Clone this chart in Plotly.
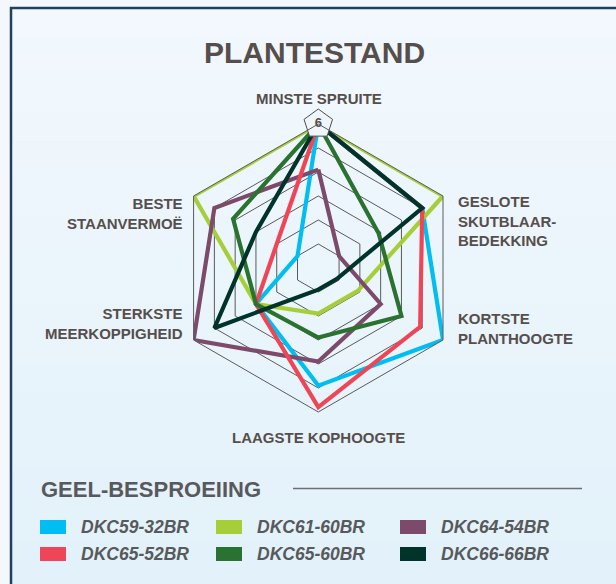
import plotly.graph_objects as go

W, H = 616, 584

# ---------------- data ----------------
CATEGORIES = [
    "MINSTE SPRUITE",
    "GESLOTE SKUTBLAAR-BEDEKKING",
    "KORTSTE PLANTHOOGTE",
    "LAAGSTE KOPHOOGTE",
    "STERKSTE MEERKOPPIGHEID",
    "BESTE STAANVERMOË",
]
CATEGORY_LABELS = [
    "MINSTE SPRUITE",
    "GESLOTE<br>SKUTBLAAR-<br>BEDEKKING",
    "KORTSTE<br>PLANTHOOGTE",
    "LAAGSTE KOPHOOGTE",
    "STERKSTE<br>MEERKOPPIGHEID",
    "BESTE<br>STAANVERMOË",
]

SERIES_NAMES = ["DKC59-32BR", "DKC61-60BR", "DKC64-54BR",
                "DKC65-52BR", "DKC65-60BR", "DKC66-66BR"]
DKC59_32BR = [6, 5, 6, 4.9, 3, 1]
DKC61_60BR = [6, 6, 1.9, 1.9, 3, 6]
DKC64_54BR = [4.1, 1, 3, 3.9, 6, 5]
DKC65_52BR = [6, 5, 4.9, 5.8, 3, 2]
DKC65_60BR = [6, 2.9, 4, 2.9, 3, 4.1]
DKC66_66BR = [6, 5, 0.9, 0.9, 5, 3]
SERIES_VALUES = [DKC59_32BR, DKC61_60BR, DKC64_54BR, DKC65_52BR, DKC65_60BR, DKC66_66BR]

RADIAL_MIN, RADIAL_MAX = 0, 6
RADIAL_GRID = [1, 2, 3, 4, 5, 6]

TITLE = "PLANTESTAND"
LEGEND_TITLE = "GEEL-BESPROEIING"

# ---------------- style ----------------
COLORS = ["#00bdf2", "#a6ce39", "#7c4a6b", "#ef4657", "#2a722f", "#00342a"]
TEXT = "#564e4b"
LEG_TEXT = "#58595b"
FONT = "Liberation Sans, Arial, sans-serif"


def px(x):
    return x / W


def py(y):
    return 1 - y / H


fig = go.Figure()

for name, vals, col in zip(SERIES_NAMES, SERIES_VALUES, COLORS):
    fig.add_trace(go.Scatterpolar(
        r=vals + vals[:1], theta=CATEGORIES + CATEGORIES[:1],
        mode="lines", name=name,
        line=dict(color=col, width=4.2),
        showlegend=False, hoverinfo="skip",
    ))

# radial end labels: 0 at centre, 6 in pentagon at top
fig.add_trace(go.Scatterpolar(
    r=[RADIAL_MAX], theta=[CATEGORIES[0]], mode="markers+text",
    text=[str(RADIAL_MAX)], textposition="middle center",
    marker=dict(symbol="pentagon", size=30, color="#eef5fb",
                line=dict(color="#4d4d4d", width=1)),
    textfont=dict(family=FONT, size=13, color=TEXT, weight="bold"),
    showlegend=False, hoverinfo="skip",
))
fig.add_trace(go.Scatterpolar(
    r=[RADIAL_MIN], theta=[CATEGORIES[0]], mode="text",
    text=[str(RADIAL_MIN)], textposition="middle center",
    textfont=dict(family=FONT, size=12.5, color=TEXT, weight="bold"),
    showlegend=False, hoverinfo="skip",
))

cx, cy, R = 318.3, 268.0, 144.0
fig.update_layout(
    width=W, height=H,
    margin=dict(l=0, r=0, t=0, b=0),
    paper_bgcolor="#f4f8fc",
    plot_bgcolor="rgba(0,0,0,0)",
    showlegend=False,
    polar=dict(
        domain=dict(x=[px(cx - R), px(cx + R)], y=[py(cy + R), py(cy - R)]),
        bgcolor="rgba(0,0,0,0)",
        gridshape="linear",
        angularaxis=dict(
            type="category", categoryarray=CATEGORIES,
            rotation=90, direction="clockwise",
            showgrid=False, showticklabels=False, ticks="",
            showline=True, linecolor="#5a5a5a", linewidth=1,
        ),
        radialaxis=dict(
            range=[RADIAL_MIN, RADIAL_MAX], tickvals=RADIAL_GRID,
            showticklabels=False, ticks="", showline=False,
            gridcolor="#5a5a5a", gridwidth=0.8,
        ),
    ),
)

shapes = []
# background panel with vertical gradient (bands)
top_c = (242, 248, 253)
bot_c = (226, 241, 250)
y0, y1 = 8, 600
n = 40
for i in range(n):
    t = i / (n - 1)
    c = tuple(round(a + (b - a) * t) for a, b in zip(top_c, bot_c))
    ya = y0 + (y1 - y0) * i / n
    yb = y0 + (y1 - y0) * (i + 1) / n + 0.5
    shapes.append(dict(type="rect", xref="paper", yref="paper",
                       x0=px(11), x1=px(640), y0=py(ya), y1=py(yb),
                       fillcolor="rgb(%d,%d,%d)" % c, line=dict(width=0),
                       layer="below"))
shapes.append(dict(type="rect", xref="paper", yref="paper",
                   x0=px(11), x1=px(640), y0=py(8), y1=py(640),
                   line=dict(color="#21405d", width=2.5), layer="below"))
# legend rule
shapes.append(dict(type="line", xref="paper", yref="paper",
                   x0=px(293), x1=px(582), y0=py(488.5), y1=py(488.5),
                   line=dict(color="#6d6e70", width=1.5)))

annotations = []
annotations.append(dict(text=TITLE, x=px(314), y=py(52.5), xref="paper", yref="paper",
                        showarrow=False, xanchor="center", yanchor="middle",
                        font=dict(family=FONT, size=30, color=TEXT, weight="bold")))

# category label placement (x, centre y, anchor)
LABEL_PLACE = [
    (319, 98, "center"),
    (456, 221, "left"),
    (456, 328.5, "left"),
    (318, 437, "center"),
    (185, 323.5, "right"),
    (185, 213.5, "right"),
]
for lab, (lx, ly, anc) in zip(CATEGORY_LABELS, LABEL_PLACE):
    annotations.append(dict(text=lab, x=px(lx), y=py(ly),
                            xref="paper", yref="paper", showarrow=False,
                            xanchor=anc, yanchor="middle", align=anc,
                            font=dict(family=FONT, size=15, color=TEXT, weight="bold")))

# legend
annotations.append(dict(text=LEGEND_TITLE, x=px(39), y=py(489), xref="paper", yref="paper",
                        showarrow=False, xanchor="left", yanchor="middle",
                        font=dict(family=FONT, size=22, color=LEG_TEXT, weight="bold")))
COL_X = [40, 216, 400]
ROW_Y = [527, 554]
for i, (name, col) in enumerate(zip(SERIES_NAMES, COLORS)):
    r_, c_ = divmod(i, 3)
    sx, sy = COL_X[c_], ROW_Y[r_]
    shapes.append(dict(type="rect", xref="paper", yref="paper",
                       x0=px(sx), x1=px(sx + 26), y0=py(sy + 7), y1=py(sy - 7),
                       fillcolor=col, line=dict(width=0)))
    annotations.append(dict(text=name, x=px(sx + 38.5), y=py(sy), xref="paper", yref="paper",
                            showarrow=False, xanchor="left", yanchor="middle",
                            font=dict(family=FONT, size=17.5, color=LEG_TEXT,
                                      weight="bold", style="italic")))

fig.update_layout(shapes=shapes, annotations=annotations)
fig.write_html("out.html", config={"displayModeBar": False},
               post_script="document.body.style.margin='0px';")
